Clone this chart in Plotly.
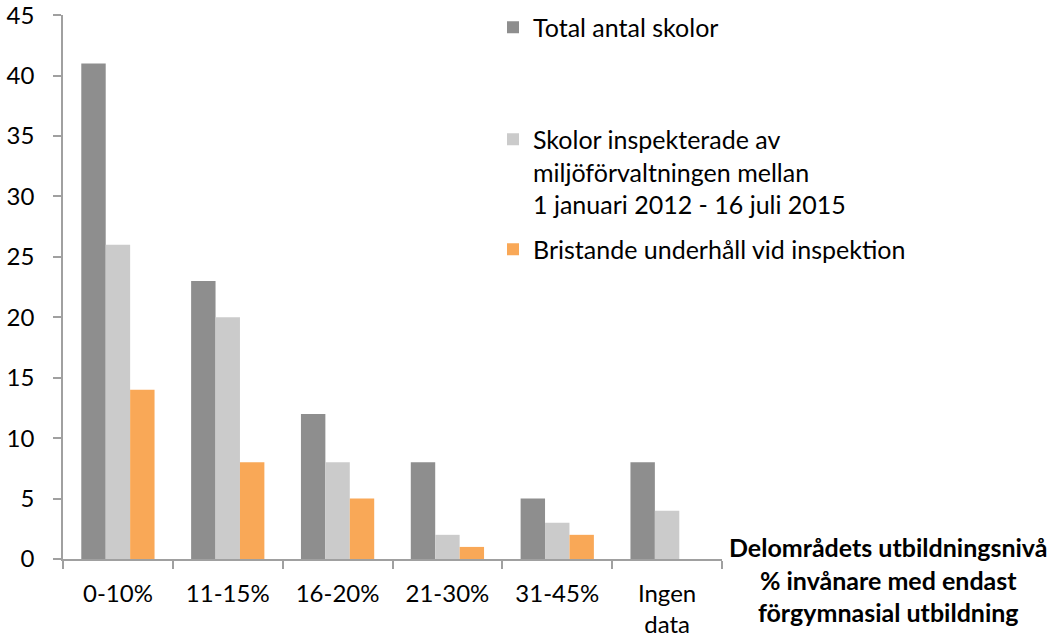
import plotly.graph_objects as go

categories = ["0-10%", "11-15%", "16-20%", "21-30%", "31-45%", "Ingen<br>data"]
total_antal = [41, 23, 12, 8, 5, 8]
inspekterade = [26, 20, 8, 2, 3, 4]
bristande = [14, 8, 5, 1, 2, 0]

names = [
    "Total antal skolor",
    "Skolor inspekterade av<br>miljöförvaltningen mellan<br>1 januari 2012 - 16 juli 2015",
    "Bristande underhåll vid inspektion",
]
colors = ["#8e8e8e", "#cbcbcb", "#f9a857"]
FONT = "Lato"
FS_LEG = 25
FS_TICK = 24
FS_TITLE = 25

fig = go.Figure()
for vals, name, col, leg in zip([total_antal, inspekterade, bristande], names, colors,
                                ["legend", "legend2", "legend3"]):
    fig.add_trace(go.Bar(x=categories, y=vals, name=name, marker=dict(color=col, line=dict(width=0)),
                         legend=leg, showlegend=True))

W, H = 1051, 638
l, r, t, b = 63, 329, 15, 79
ph = H - t - b
pw = W - l - r

def py(pix):
    return (H - b - pix) / ph

def px(pix):
    return (pix - l) / pw

legend_common = dict(x=px(493), xanchor="left", yanchor="top", valign="top",
                     font=dict(family=FONT, size=FS_LEG, color="#000000"),
                     bgcolor="rgba(0,0,0,0)", itemwidth=30)

fig.update_layout(
    width=W, height=H,
    margin=dict(l=l, r=r, t=t, b=b, autoexpand=False),
    plot_bgcolor="white", paper_bgcolor="white",
    font=dict(family=FONT, size=FS_TICK, color="#000000"),
    barmode="group", bargap=0.333, bargroupgap=0,
    showlegend=True,
    legend=dict(**legend_common, y=py(4.5)),
    legend2=dict(**legend_common, y=py(116.5)),
    legend3=dict(**legend_common, y=py(226.5)),
    xaxis=dict(showline=True, linecolor="#a0a0a0", linewidth=1.5, ticks="outside",
               tickson="boundaries", ticklen=8, tickcolor="#a0a0a0", tickwidth=1.5,
               showgrid=False, ticklabelstandoff=12, tickfont=dict(size=FS_TICK),
               automargin=False),
    yaxis=dict(range=[0, 45.01], tickmode="array", tickvals=[0, 5, 10, 15, 20, 25, 30, 35, 40, 45],
               showline=True, linecolor="#a0a0a0", linewidth=1.5,
               ticks="outside", ticklen=8, tickcolor="#a0a0a0", tickwidth=1.5,
               showgrid=False, zeroline=False, tickfont=dict(size=FS_TICK), ticklabelstandoff=14,
               ticklabeloverflow="allow", automargin=False),
    annotations=[dict(
        text="<b>Delområdets utbildningsnivå<br>% invånare med endast<br>förgymnasial utbildning</b>",
        xref="paper", yref="paper", x=px(888), y=py(530),
        xanchor="center", yanchor="top", showarrow=False, align="center",
        font=dict(family=FONT, size=FS_TITLE, color="#000000"))],
)

fig.write_html("out.html", config={"displayModeBar": False},
               post_script="document.body.style.margin='0';document.body.style.overflow='hidden';")
